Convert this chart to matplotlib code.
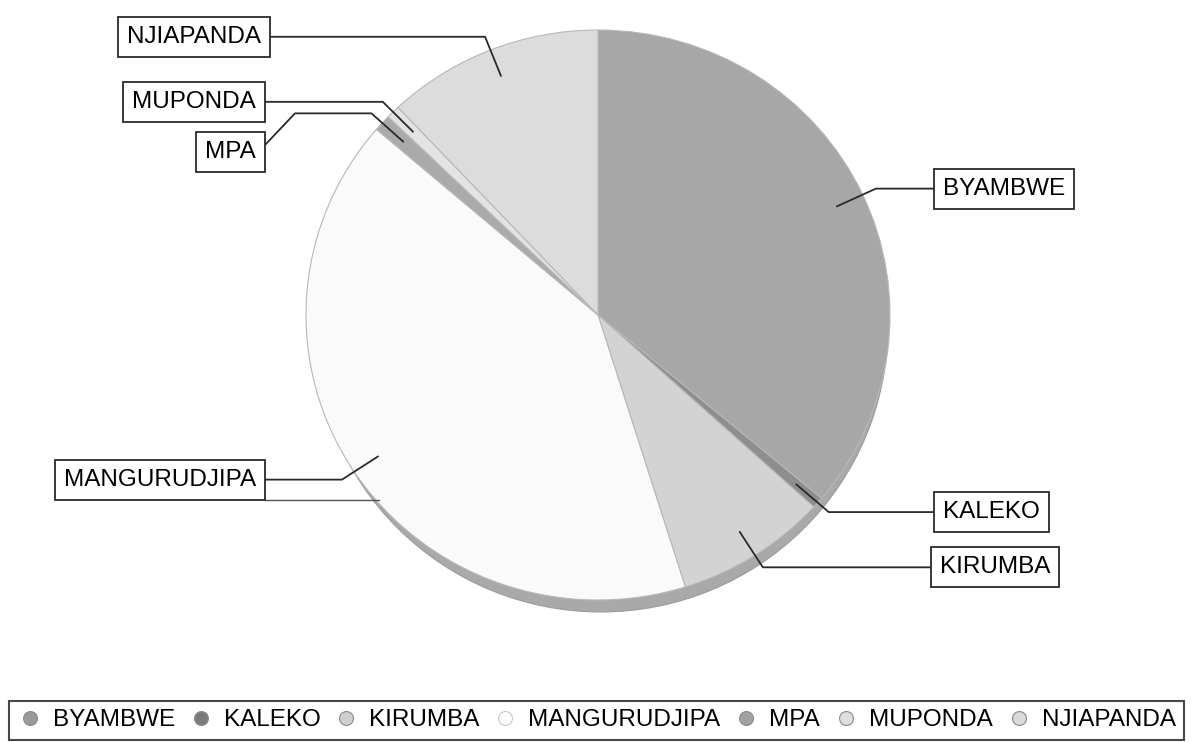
import matplotlib.pyplot as plt
import numpy as np
from matplotlib.lines import Line2D
from matplotlib.patches import Ellipse

plt.rcParams['font.family'] = ['Liberation Sans', 'DejaVu Sans']

# slice names and shares (percent)
names = ['BYAMBWE', 'KALEKO', 'KIRUMBA', 'MANGURUDJIPA', 'MPA', 'MUPONDA', 'NJIAPANDA']
shares = [36.1, 0.64, 8.4, 41.1, 0.95, 0.75, 12.0]

slice_colors = ['#a7a7a7', '#8e8e8e', '#d3d3d3', '#fafafa', '#aaaaaa', '#e3e3e3', '#dcdcdc']
legend_colors = ['#9a9a9a', '#7a7a7a', '#cfcfcf', '#ffffff', '#a2a2a2', '#dedede', '#dadada']

# where the label boxes sit (pixel x of the edge facing the pie)
box_edge = [934, 934, 931, 265, 265, 265, 270]
box_side = ['right', 'right', 'right', 'left', 'left', 'left', 'left']

W, H = 1193, 742
fig = plt.figure(figsize=(W / 100, H / 100), dpi=100)

# pie axes: centre (598, 315), rx 292, ry 285 in pixels
pl, pr, pt, pb = 306, 890, 30, 600
pax = fig.add_axes([pl / W, 1 - pb / H, (pr - pl) / W, (pb - pt) / H])
pax.add_patch(Ellipse((0.01, -0.042), 1.965, 2.0, facecolor='#a9a9a9',
                      edgecolor='#9c9c9c', lw=0.8, zorder=0, clip_on=False))
wedges, _ = pax.pie(shares, colors=slice_colors, startangle=90, counterclock=False,
                    wedgeprops=dict(edgecolor='#b8b8b8', linewidth=0.8))
pax.set_aspect('auto')
pax.set_xlim(-1, 1)
pax.set_ylim(-1, 1)
pax.axis('off')

# overlay axes in pixel coordinates for labels and leader lines
ax = fig.add_axes([0, 0, 1, 1])
ax.set_xlim(0, W)
ax.set_ylim(H, 0)
ax.axis('off')


def to_px(x, y):
    disp = pax.transData.transform((x, y))
    return ax.transData.inverted().transform(disp)


fs = 17.5
pad_px = 9
box = dict(boxstyle='square,pad=0.37', facecolor='white', edgecolor='#2a2a2a', linewidth=1.3)
line_kw = dict(color='#2a2a2a', lw=1.3, solid_capstyle='butt')

for w, name, edge, side in zip(wedges, names, box_edge, box_side):
    mid = np.deg2rad((w.theta1 + w.theta2) / 2)
    ix, iy = to_px(0.9 * np.cos(mid), 0.9 * np.sin(mid))
    ex, ey = to_px(1.05 * np.cos(mid), 1.05 * np.sin(mid))
    if name == 'MPA':
        ty = 152
        ax.plot([ix, ex, 295, edge], [iy, ey, ey, 145], **line_kw)
        ax.text(edge - pad_px, ty, name, ha='right', va='center', fontsize=fs, bbox=box)
        continue
    ax.plot([ix, ex, edge], [iy, ey, ey], **line_kw)
    if side == 'right':
        ax.text(edge + pad_px, ey, name, ha='left', va='center', fontsize=fs, bbox=box)
    else:
        ax.text(edge - pad_px, ey, name, ha='right', va='center', fontsize=fs, bbox=box)
        if name == 'MANGURUDJIPA':
            ax.plot([edge, ix], [ey + 20, ey + 20], color='#555555', lw=1.0)

handles = [Line2D([], [], marker='o', linestyle='none', markersize=10,
                  markerfacecolor=c, markeredgecolor='#8a8a8a', markeredgewidth=0.8)
           for c in legend_colors]
handles[3].set_markeredgecolor('#c8c8c8')
leg = fig.legend(handles, names, loc='lower center', bbox_to_anchor=(0.5, 0.0),
                 ncol=7, fontsize=fs, frameon=True, fancybox=False,
                 handlelength=1.0, handletextpad=0.45, columnspacing=0.56,
                 borderpad=0.35, borderaxespad=0.1)
leg.get_frame().set_edgecolor('#1a1a1a')
leg.get_frame().set_linewidth(1.5)

fig.savefig('out.png', dpi=100)
